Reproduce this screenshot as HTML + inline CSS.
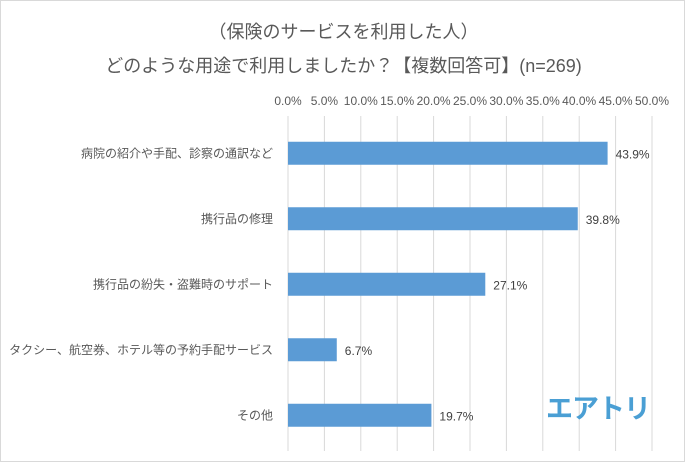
<!DOCTYPE html>
<html><head><meta charset="utf-8">
<style>
html,body{margin:0;padding:0;background:#fff}
#c{position:relative;width:685px;height:462px;box-sizing:border-box;border:1px solid #d9d9d9;font-family:"Liberation Sans","Noto Sans CJK JP",sans-serif;color:#595959;overflow:hidden}
.t{position:absolute;left:0;width:685px;text-align:center;font-size:18px;white-space:nowrap}
#logo{position:absolute;left:545px;top:386px;font-size:27px;font-weight:bold;color:#4a9fd4;letter-spacing:-1px}
</style></head><body>
<div id="c">
<div class="t" style="top:17px">（保険のサービスを利用した人）</div>
<div class="t" style="top:51px">どのような用途で利用しましたか？【複数回答可】(n=269)</div>
<svg id="s" width="685" height="462" style="position:absolute;left:0;top:0"></svg>
<div id="logo">エアトリ</div>
</div>
<script>
const categories=["病院の紹介や手配、診察の通訳など","携行品の修理","携行品の紛失・盗難時のサポート","タクシー、航空券、ホテル等の予約手配サービス","その他"];
const values=[43.9,39.8,27.1,6.7,19.7];
const ticks=[0,5,10,15,20,25,30,35,40,45,50];
const ns="http://www.w3.org/2000/svg",s=document.getElementById('s');
const x0=287,x1=651,gTop=115,gBot=450,bTop=119.5,bBot=447,maxV=50;
const xs=v=>x0+(x1-x0)*v/maxV;
const band=(bBot-bTop)/categories.length;
const yc=i=>bTop+band*(i+0.5);
function mk(t,a,txt){const e=document.createElementNS(ns,t);for(const k in a)e.setAttribute(k,a[k]);if(txt!==undefined)e.textContent=txt;s.appendChild(e);return e;}
ticks.forEach(t=>{
 const g=mk('line',{x1:xs(t),x2:xs(t),y1:gTop,y2:gBot,stroke:'#d9d9d9','stroke-width':1});
 
 
 const l=mk('text',{x:xs(t),y:104,'text-anchor':'middle','font-size':12,fill:'#595959'},t.toFixed(1)+'%');
 
 
});
categories.forEach((c,i)=>{
 const y=yc(i);
 const r=mk('rect',{x:x0,y:y-11.5,width:xs(values[i])-x0,height:23,fill:'#5b9bd5'});
 
 
 const lb=mk('text',{x:272,y:y+4,'text-anchor':'end','font-size':12,fill:'#595959'},c);
 
 
 const vl=mk('text',{x:xs(values[i])+8,y:y+5,'font-size':12,fill:'#404040'},values[i].toFixed(1)+'%');
 
 
});
</script>
</body></html>
